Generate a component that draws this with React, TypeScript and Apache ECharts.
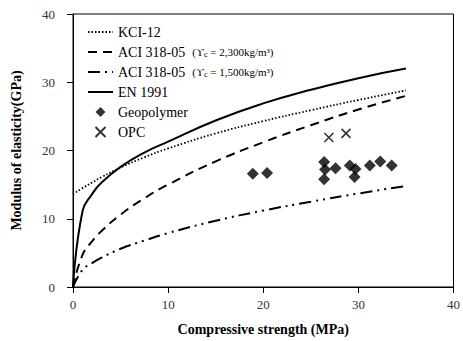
import React, { useEffect, useRef } from "react";
import * as echarts from "echarts";

const curveX = [0, 1, 2, 3, 5, 7.5, 10, 15, 20, 25, 30, 35];
const kci12 = [13.6, 14.5, 15.3, 16.1, 17.5, 19.0, 20.3, 22.5, 24.3, 25.9, 27.4, 28.8];
const aci2300 = [0, 4.7, 6.7, 8.2, 10.6, 13.0, 15.0, 18.4, 21.2, 23.7, 26.0, 28.0];
const aci1500 = [0, 2.5, 3.5, 4.3, 5.6, 6.8, 7.9, 9.7, 11.2, 12.5, 13.7, 14.8];
const en1991 = [0, 11.1, 13.6, 15.3, 17.6, 19.7, 21.3, 24.4, 26.9, 28.9, 30.6, 32.0];

const geoX = [18.9, 20.4, 26.4, 26.5, 26.4, 27.6, 29.1, 29.7, 29.6, 31.2, 32.3, 33.5];
const geoY = [16.6, 16.7, 18.3, 17.2, 15.8, 17.4, 17.8, 17.3, 16.1, 17.8, 18.4, 17.8];
const opcX = [26.9, 28.7];
const opcY = [21.9, 22.5];

const xTicks = { min: 0, max: 40, interval: 10 };
const yTicks = { min: 0, max: 40, interval: 10 };

const names = {
  kci: "KCI-12",
  aci1: "ACI 318-05 (2300)",
  aci2: "ACI 318-05 (1500)",
  en: "EN 1991",
  geo: "Geopolymer",
  opc: "OPC",
};

const FONT = "'Liberation Serif', 'DejaVu Serif', serif";
const X_PATH = "path://M0,0L10,10M10,0L0,10";
const DIAMOND_PATH = "path://M5,0L10,5L5,10L0,5Z";

export default function App() {
  const ref = useRef<HTMLDivElement>(null);
  useEffect(() => {
    document.body.style.margin = "0";
    if (!ref.current) return;
    const chart = echarts.init(ref.current, null, { renderer: "svg" });
    const zip = (xs: number[], ys: number[]) => xs.map((x, i) => [x, ys[i]]);
    const lineSeries = (name: string, ys: number[], type: any, width: number) => ({
      name,
      type: "line",
      data: zip(curveX, ys),
      smooth: true,
      symbol: "none",
      color: "#000",
      itemStyle: { color: "#000" },
      lineStyle: { color: "#000", width, type },
    });
    const hidden = { opacity: 0 };
    chart.setOption({
      animation: false,
      backgroundColor: "#fff",
      grid: {
        left: 73,
        right: 5,
        top: 14,
        bottom: 53,
        show: true,
        borderColor: "#000",
        borderWidth: 1,
      },
      legend: {
        orient: "vertical",
        left: 82,
        top: 19,
        itemWidth: 25,
        itemHeight: 10,
        itemGap: 4,
        textStyle: {
          fontFamily: FONT,
          fontSize: 14,
          lineHeight: 16,
          color: "#000",
          rich: {
            s: { fontFamily: FONT, fontSize: 11, lineHeight: 16, color: "#000" },
            sub: { fontFamily: FONT, fontSize: 8, lineHeight: 16, color: "#000", padding: [5, 0, 0, 0] },
            m: { fontFamily: FONT, fontSize: 14, lineHeight: 16, color: "#000" },
          },
        },
        formatter: (n: string) => {
          if (n === names.aci1) return "{m|ACI 318-05  }{s|(ϒ}{sub|c}{s| = 2,300kg/m³)}";
          if (n === names.aci2) return "{m|ACI 318-05  }{s|(ϒ}{sub|c}{s| = 1,500kg/m³)}";
          return n;
        },
        data: [
          { name: names.kci, itemStyle: hidden },
          { name: names.aci1, itemStyle: hidden },
          { name: names.aci2, itemStyle: hidden },
          { name: names.en, itemStyle: hidden },
          { name: names.geo, icon: DIAMOND_PATH },
          { name: names.opc, icon: X_PATH },
        ],
      },
      xAxis: {
        type: "value",
        ...xTicks,
        name: "Compressive strength (MPa)",
        nameLocation: "middle",
        nameGap: 35,
        nameTextStyle: { fontFamily: FONT, fontSize: 14, fontWeight: "bold", color: "#000" },
        axisLine: { lineStyle: { color: "#000", width: 1 } },
        axisTick: { show: true, length: 6, lineStyle: { color: "#000" } },
        axisLabel: { fontFamily: FONT, fontSize: 13, color: "#333", margin: 11 },
        splitLine: { show: false },
      },
      yAxis: {
        type: "value",
        ...yTicks,
        name: "Modulus of elasticity(GPa)",
        nameLocation: "middle",
        nameGap: 50,
        nameTextStyle: { fontFamily: FONT, fontSize: 14, fontWeight: "bold", color: "#000" },
        axisLine: { show: true, lineStyle: { color: "#000", width: 1 } },
        axisTick: { show: true, length: 6, lineStyle: { color: "#000" } },
        axisLabel: { fontFamily: FONT, fontSize: 13, color: "#333", margin: 18 },
        splitLine: { show: false },
      },
      series: [
        lineSeries(names.kci, kci12, [1.5, 2], 1.8),
        lineSeries(names.aci1, aci2300, [9, 6], 2),
        lineSeries(names.aci2, aci1500, [12, 5, 2, 5, 2, 5], 2),
        lineSeries(names.en, en1991, "solid", 2),
        {
          name: names.geo,
          type: "scatter",
          data: zip(geoX, geoY),
          symbol: "diamond",
          symbolSize: 12,
          itemStyle: { color: "#000" },
        },
        {
          name: names.opc,
          type: "scatter",
          data: zip(opcX, opcY),
          symbol: X_PATH,
          symbolSize: 9,
          itemStyle: { color: "none", borderColor: "#000", borderWidth: 1.6 },
        },
      ],
    });
    return () => chart.dispose();
  }, []);
  return (
    <div
      ref={ref}
      style={{ position: "absolute", left: 0, top: 0, width: 463, height: 341 }}
    />
  );
}
